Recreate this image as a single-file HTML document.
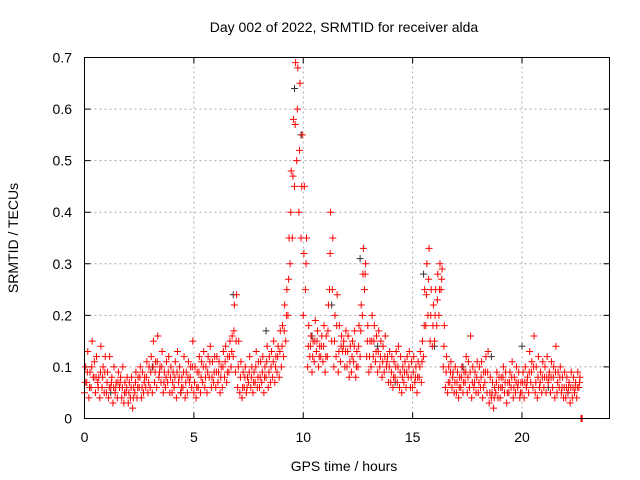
<!DOCTYPE html>
<html><head><meta charset="utf-8"><style>
body{margin:0;background:#fff}
svg{display:block;font-family:"Liberation Sans",sans-serif}
</style></head><body>
<svg id="c" width="640" height="480">
<text x="344" y="32" font-size="14" text-anchor="middle">Day 002 of 2022, SRMTID for receiver alda</text>
<text x="344" y="471" font-size="14" text-anchor="middle">GPS time / hours</text>
<text transform="translate(18,238) rotate(-90)" font-size="14" text-anchor="middle">SRMTID / TECUs</text>
<g id="grid"></g><g id="ticks"></g><g id="marks"></g>
<rect x="84.5" y="57.5" width="525" height="361" fill="none" stroke="#000"/>
</svg>
<script>
const xTicks=[0,5,10,15,20];
const yTicks=[0,0.1,0.2,0.3,0.4,0.5,0.6,0.7];
const yTickLabels=["0","0.1","0.2","0.3","0.4","0.5","0.6","0.7"];
const redLow=[.05,.07,.04,.06,.08,.05,.07,.04,.06,.05,
.05,.04,.06,.03,.05,.04,.06,.04,.03,.05,
.03,.04,.02,.05,.04,.06,.04,.05,.06,.05,
.06,.05,.07,.06,.08,.07,.05,.06,.07,.05,
.05,.06,.04,.07,.05,.06,.04,.05,.07,.06,
.05,.04,.06,.05,.07,.06,.05,.08,.06,.07,
.06,.07,.05,.06,.08,.07,.09,.10,.12,.09,
.06,.05,.04,.06,.05,.07,.06,.05,.07,.06,
.06,.07,.05,.08,.06,.07,.08,.07,.09,.08,
.10,.12,.15,.20,.30,.35,.45,.50,.40,.35,
.20,.25,.10,.12,.09,.11,.13,.10,.12,.11,
.09,.12,.25,.15,.10,.12,.09,.11,.13,.10,
.10,.08,.09,.11,.08,.10,.12,.20,.25,.12,
.09,.10,.12,.11,.09,.10,.08,.09,.10,.07,
.07,.06,.08,.07,.06,.05,.07,.06,.08,.06,
.06,.07,.05,.08,.07,.12,.18,.20,.15,.14,
.15,.18,.20,.25,.10,.06,.05,.07,.06,.05,
.05,.04,.06,.05,.07,.05,.06,.04,.06,.05,
.05,.06,.04,.07,.05,.03,.04,.02,.05,.04,
.04,.06,.05,.03,.05,.06,.04,.05,.06,.04,
.05,.04,.06,.05,.07,.06,.05,.04,.06,.05,
.06,.05,.07,.05,.06,.04,.05,.06,.05,.04,
.04,.05,.03,.04,.05,.04,.06,.00];
const redHigh=[.10,.13,.09,.15,.11,.12,.08,.14,.10,.12,
.09,.12,.08,.10,.07,.09,.08,.10,.07,.08,
.07,.08,.06,.09,.08,.10,.09,.08,.11,.10,
.12,.15,.11,.16,.10,.13,.09,.11,.12,.10,
.09,.11,.13,.10,.08,.12,.09,.11,.10,.15,
.10,.09,.12,.11,.13,.10,.12,.14,.11,.12,
.12,.11,.10,.13,.14,.12,.15,.16,.22,.24,
.15,.11,.09,.10,.08,.12,.10,.09,.13,.11,
.11,.12,.10,.14,.12,.13,.15,.12,.14,.17,
.18,.22,.25,.35,.48,.58,.69,.68,.65,.55,
.45,.35,.18,.16,.15,.19,.17,.14,.16,.18,
.16,.22,.40,.35,.20,.24,.18,.16,.15,.17,
.16,.14,.15,.17,.13,.18,.22,.33,.30,.18,
.15,.20,.18,.16,.17,.15,.14,.16,.12,.13,
.12,.11,.13,.14,.12,.10,.11,.12,.13,.11,
.12,.10,.11,.13,.15,.25,.30,.33,.25,.22,
.25,.28,.30,.29,.18,.12,.10,.11,.09,.10,
.09,.08,.10,.09,.12,.11,.16,.10,.09,.11,
.10,.11,.09,.12,.13,.08,.07,.06,.09,.08,
.08,.10,.09,.07,.09,.11,.08,.10,.09,.07,
.09,.10,.08,.13,.11,.16,.10,.12,.09,.11,
.10,.12,.09,.11,.10,.14,.09,.10,.08,.09,
.08,.07,.09,.08,.07,.09,.08,.00];
const redMid=[.07,.09,.06,.10,.08,.08,.06,.09,.08,.09,
.07,.06,.07,.06,.06,.07,.07,.06,.05,.06,
.05,.06,.04,.07,.06,.08,.06,.07,.08,.07,
.09,.10,.09,.11,.09,.10,.07,.08,.09,.08,
.07,.08,.09,.08,.06,.09,.07,.08,.08,.10,
.07,.06,.09,.08,.10,.08,.09,.11,.08,.09,
.09,.09,.08,.10,.11,.09,.12,.13,.17,.15,
.10,.08,.06,.08,.06,.09,.08,.07,.10,.08,
.08,.09,.08,.11,.09,.10,.11,.10,.12,.13,
.14,.17,.20,.27,.40,.47,.57,.60,.52,.45,
.32,.30,.14,.14,.12,.15,.15,.12,.14,.14,
.12,.17,.32,.25,.15,.18,.13,.14,.14,.13,
.13,.11,.12,.14,.10,.14,.17,.28,.28,.15,
.12,.15,.15,.13,.13,.12,.11,.12,.11,.10,
.09,.08,.10,.10,.09,.08,.09,.09,.10,.08,
.09,.08,.08,.10,.11,.18,.24,.27,.20,.18,
.20,.23,.25,.27,.14,.09,.07,.09,.08,.07,
.07,.06,.08,.07,.09,.08,.09,.07,.07,.08,
.07,.08,.06,.09,.09,.05,.05,.04,.07,.06,
.06,.08,.07,.05,.07,.08,.06,.07,.07,.05,
.07,.07,.07,.09,.09,.10,.07,.08,.07,.08,
.08,.08,.08,.08,.08,.09,.07,.08,.06,.06,
.06,.06,.06,.06,.06,.06,.07,.00];
const blackTimes=[0.3,1.2,3.1,4.4,6.8,8.3,9.6,9.9,10.4,11.3,12.6,13.4,14.2,15.5,16.0,17.3,18.6,20.0,21.2,22.1];
const blackValues=[.06,.05,.10,.05,.24,.17,.64,.55,.16,.22,.31,.14,.07,.28,.14,.10,.12,.14,.06,.05];
const X0=84.5,X1=609.5,Y0=418.5,Y1=57.5;
const sx=v=>X0+v/24*(X1-X0);
const sy=v=>Y0-v/0.7*(Y0-Y1);
const NS="http://www.w3.org/2000/svg";
function mk(tag,attrs,parent){const e=document.createElementNS(NS,tag);for(const k in attrs)e.setAttribute(k,attrs[k]);document.getElementById(parent).appendChild(e);return e;}
xTicks.forEach((t,i)=>{
 if(t>0){const g=mk('line',{x1:sx(t),x2:sx(t),y1:Y0,y2:Y1,stroke:'#aaa','stroke-dasharray':'2,3'},'grid');
 
 }
 const tk=mk('path',{d:`M${sx(t)},${Y0}v-6M${sx(t)},${Y1}v6`,stroke:'#000'},'ticks');
 
 
 const l=mk('text',{x:sx(t),y:442,'font-size':14,'text-anchor':'middle'},'ticks');l.textContent=String(t);
 
 
});
yTicks.forEach((t,i)=>{
 if(t>0&&t<0.7){const g=mk('line',{x1:X0,x2:X1,y1:sy(t),y2:sy(t),stroke:'#aaa','stroke-dasharray':'2,3'},'grid');
 
 }
 const tk=mk('path',{d:`M${X0},${sy(t)}h6M${X1},${sy(t)}h-6`,stroke:'#000'},'ticks');
 
 
 const l=mk('text',{x:72,y:sy(t)+5,'font-size':14,'text-anchor':'end'},'ticks');l.textContent=yTickLabels[i];
 
 
});
function plus(x,y){return `M${x-3.5},${y}h7M${x},${y-3.5}v7`;}
let bd='';blackTimes.forEach((t,i)=>{bd+=plus(sx(t),sy(blackValues[i]));});
const bp=mk('path',{d:bd,stroke:'#333','stroke-width':1,fill:'none'},'marks');


let rd='';
redLow.forEach((v,i)=>{const t=i*0.1;rd+=plus(sx(t),sy(v))+plus(sx(t+0.05),sy(redHigh[i]))+plus(sx(t+0.03),sy(redMid[i]));});
const rp=mk('path',{d:rd,stroke:'#f00','stroke-width':1,fill:'none'},'marks');


</script>
</body></html>
